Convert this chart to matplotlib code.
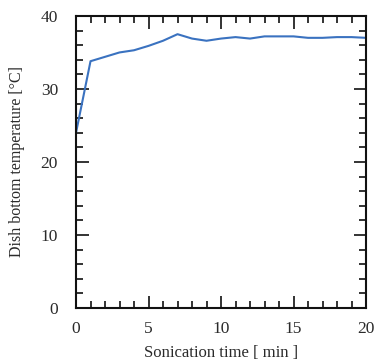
import matplotlib
matplotlib.use("Agg")
import matplotlib.pyplot as plt
from matplotlib.ticker import MultipleLocator

time_min = [0, 1, 2, 3, 4, 5, 6, 7, 8, 9, 10, 11, 12, 13, 14, 15, 16, 17, 18, 19, 20]
temperature = [24.0, 33.8, 34.4, 35.0, 35.3, 35.9, 36.6, 37.5, 36.9, 36.6, 36.9, 37.1,
               36.9, 37.2, 37.2, 37.2, 37.0, 37.0, 37.1, 37.1, 37.0]

plt.rcParams['font.family'] = ['Liberation Serif', 'DejaVu Serif']
txt = '#2a2a2a'

fig = plt.figure(figsize=(3.75, 3.62), dpi=100)
ax = fig.add_axes([0.2027, 0.149, 0.7733, 0.807])
ax.plot(time_min, temperature, color='#3a72c0', lw=1.5)
ax.set_xlim(0, 20)
ax.set_ylim(0, 40)
ax.xaxis.set_major_locator(MultipleLocator(5))
ax.xaxis.set_minor_locator(MultipleLocator(1))
ax.yaxis.set_major_locator(MultipleLocator(10))
ax.yaxis.set_minor_locator(MultipleLocator(2))
ax.tick_params(which='both', direction='in', top=True, right=True, width=1.2,
               labelsize=12.5, labelcolor=txt, color='#111111')
ax.tick_params(which='major', length=9)
ax.tick_params(which='minor', length=5)
ax.tick_params(axis='y', pad=13)
ax.tick_params(axis='x', pad=9)
for s in ax.spines.values():
    s.set_linewidth(1.5)
    s.set_color('#111111')
ax.set_xlabel('Sonication time [ min ]', fontsize=12, labelpad=6, color=txt)
ax.set_ylabel('Dish bottom temperature [°C]', fontsize=11.5, labelpad=11, color=txt)
fig.savefig('out.png', dpi=100)
